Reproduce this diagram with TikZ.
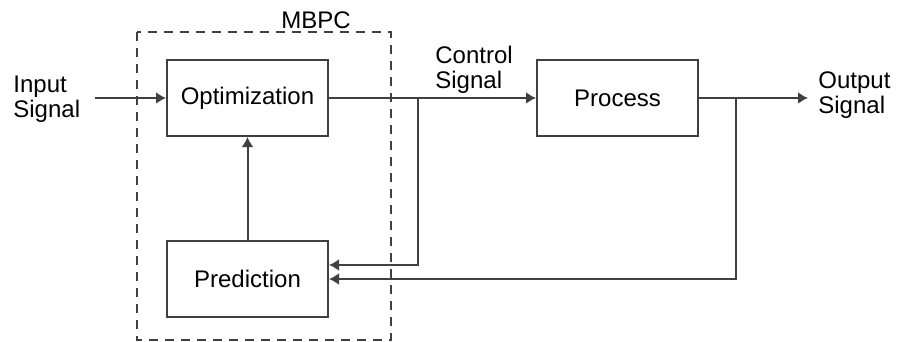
\documentclass[tikz,border=0pt]{standalone}
\usepackage{fontspec}
\setmainfont{Liberation Sans}
\usetikzlibrary{arrows.meta,positioning}

\begin{document}
\begin{tikzpicture}[
    x=0.5pt, y=-0.5pt,
    node distance=51.5pt and 103.5pt,
    font=\fontsize{12}{12.5}\selectfont,
    block/.style={
        rectangle,
        draw=black!75,
        line width=1pt,
        minimum width=80.5pt,
        minimum height=38pt,
        inner sep=0pt
    },
    signal_text/.style={
        align=left,
        inner sep=2pt
    },
    line/.style={
        draw=black!75,
        line width=1pt,
        -{Latex[length=5pt,width=6pt]}
    },
    frame/.style={
        draw=black!75,
        line width=1pt,
        dash pattern=on 4.5pt off 3.5pt
    }
]
    \useasboundingbox (0,0) rectangle (899,342);

    % --- Nodes ---
    \node [block] (opt) at (247.5,98) {Optimization};
    \node [block, below=of opt] (pred) {Prediction};
    \node [block, right=of opt] (proc) {Process};

    \node [signal_text, anchor=west] (in) at (9,99) {Input\\Signal};
    \node [signal_text, anchor=west] (ctrl) at (431,70) {Control\\Signal};
    \node [signal_text, anchor=west] (out) at (814,95) {Output\\Signal};

    % --- MBPC frame ---
    \draw [frame] (137,32) rectangle (391,340);
    \node [anchor=south, inner sep=1.5pt] (mbpc) at (316,32) {MBPC};

    \coordinate (split_ctrl) at (418,98);
    \coordinate (split_out) at (736,98);

    % --- Flow lines ---
    \path [line] ([xshift=5pt]in.east |- opt.west) -- (opt.west);
    \path [line] (pred) -- (opt);
    \path [line] (opt) -- (proc);
    \path [line] (proc.east) -- ([xshift=-3pt]out.west |- proc.east);
    \path [line] (split_ctrl) |- ([yshift=7pt]pred.east);
    \path [line] (split_out) |- (pred.east);

\end{tikzpicture}
\end{document}
